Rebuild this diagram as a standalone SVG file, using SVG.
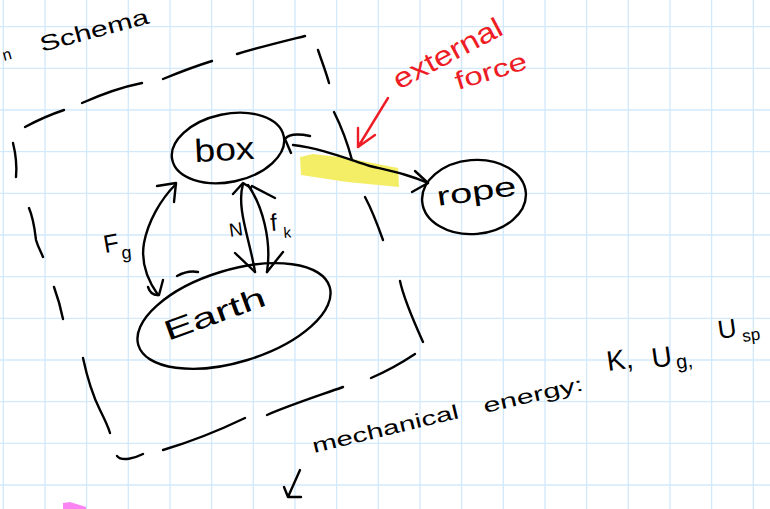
<svg xmlns="http://www.w3.org/2000/svg" width="770" height="509" viewBox="0 0 770 509">
  <style>
    .grid { stroke: #d2e9fb; stroke-width: 1.3; fill: none; }
    .ink { stroke: #000; stroke-width: 2.4; fill: none; stroke-linecap: round; stroke-linejoin: round; }
    .red { stroke: #ee1c25; stroke-width: 2.4; fill: none; stroke-linecap: round; stroke-linejoin: round; }
    .hand { font-family: "Liberation Sans", "DejaVu Sans", sans-serif; fill: #000; }
    .hand-red { font-family: "Liberation Sans", "DejaVu Sans", sans-serif; fill: #ee1c25; }
  </style>

  <!-- paper -->
  <rect width="770" height="509" fill="#ffffff"/>
  <path class="grid" d="M3.3,0V509 M45,0V509 M86.6,0V509 M128.3,0V509 M170,0V509 M211.6,0V509 M253.3,0V509 M295,0V509 M336.6,0V509 M378.3,0V509 M420,0V509 M461.6,0V509 M503.3,0V509 M545,0V509 M586.6,0V509 M628.3,0V509 M670,0V509 M711.6,0V509 M753.3,0V509
    M0,26.7H770 M0,68.3H770 M0,110H770 M0,151.7H770 M0,193.3H770 M0,235H770 M0,276.7H770 M0,318.3H770 M0,360H770 M0,401.7H770 M0,443.3H770 M0,485H770"/>

  <!-- highlighter mark under the external force -->
  <path d="M300,157 L313,154 L347,158 L398,168 L399,187 L347,182 L301,175 Z" fill="#f3ee66"/>
  <!-- pink mark at the page bottom -->
  <path d="M63,503 L70,502 L86,507 L86,509 L63,509 Z" fill="#fb84f3"/>

  <!-- title -->
  <text class="hand" font-size="16" transform="translate(4,61) rotate(-15)">n</text>
  <text class="hand" font-size="22" textLength="112" lengthAdjust="spacingAndGlyphs" transform="translate(42,52) rotate(-15)">Schema</text>

  <!-- system boundary (dashed, hand drawn) -->
  <g id="system-boundary" class="ink">
    <path d="M25,127 C38,120 52,114 64,110"/>
    <path d="M82,103 C100,95 122,87 142,83"/>
    <path d="M163,79 C180,72 196,66 212,61"/>
    <path d="M237,54 C260,47 285,41 305,36"/>
    <path d="M318,50 C322,62 326,72 329,83"/>
    <path d="M334,112 C342,128 348,145 352,160"/>
    <path d="M365,197 C372,210 378,226 383,240"/>
    <path d="M400,281 C404,300 414,322 423,342"/>
    <path d="M415,354 C400,364 385,372 371,378"/>
    <path d="M343,387 C318,396 290,405 267,415"/>
    <path d="M245,418 C220,430 190,442 163,450"/>
    <path d="M143,454 C135,458 122,462 117,456"/>
    <path d="M13,143 C16,155 17,166 16,177"/>
    <path d="M29,208 C34,220 35,232 36,240 C38,247 41,252 43,257"/>
    <path d="M54,287 C58,298 61,309 63,319"/>
    <path d="M83,358 C86,372 90,390 100,410 C104,418 108,426 110,433"/>
  </g>

  <!-- nodes -->
  <g id="box">
    <ellipse class="ink" cx="228" cy="148" rx="57" ry="34" transform="rotate(-12 228 148)"/>
    <text class="hand" font-size="32" textLength="60" lengthAdjust="spacingAndGlyphs" transform="translate(195,162) rotate(-3)">box</text>
  </g>

  <g id="earth">
    <ellipse class="ink" cx="234" cy="316" rx="100" ry="46" transform="rotate(-17 234 316)"/>
    <path class="ink" d="M177,276 Q188,270 198,272"/>
    <text class="hand" font-size="28" textLength="106" lengthAdjust="spacingAndGlyphs" transform="translate(168,341) rotate(-20)">Earth</text>
  </g>

  <g id="rope">
    <ellipse class="ink" cx="474" cy="197" rx="52" ry="37" transform="rotate(-5 474 197)"/>
    <text class="hand" font-size="27" textLength="80" lengthAdjust="spacingAndGlyphs" transform="translate(438,206) rotate(-8)">rope</text>
  </g>

  <!-- interactions -->
  <g id="connectors">
    <!-- gravitational: box <-> Earth -->
    <path class="ink" d="M176,184 C160,200 148,222 144,243 C141,260 146,278 158,295"/>
    <path class="ink" d="M157,186 L176,183 L174,202"/>
    <path class="ink" d="M148,287 Q151,296 159,295 M163,280 L159,295"/>
    <text class="hand" font-size="25" transform="translate(105,253) rotate(-10)">F</text>
    <text class="hand" font-size="18" transform="translate(122,259) rotate(-5)">g</text>

    <!-- normal and kinetic friction: box <-> Earth -->
    <path class="ink" d="M243,184 C236,208 250,240 255,272"/>
    <path class="ink" d="M248,185 C262,205 272,240 267,272"/>
    <path class="ink" d="M233,194 L243,183 L251,188 M252,186 L275,198"/>
    <path class="ink" d="M235,253 L255,272 M283,252 L267,272"/>
    <text class="hand" font-size="19" transform="translate(230,237) rotate(-8)">N</text>
    <text class="hand" font-size="24" transform="translate(271,231) rotate(-5)">f</text>
    <text class="hand" font-size="15" transform="translate(284,238) rotate(-5)">k</text>

    <!-- external force: box <-> rope -->
    <path class="ink" d="M293,145 C320,148 345,158 370,166 C395,172 410,175 428,183"/>
    <path class="ink" d="M415,171 L428,183 L412,192"/>
    <path class="ink" d="M310,136 Q290,132 285,139 L291,153"/>
  </g>

  <!-- annotation -->
  <g id="annotation">
    <path class="red" d="M388,98 L358,147 M358,128 L358,147 L375,135"/>
    <text class="hand-red" font-size="28" textLength="120" lengthAdjust="spacingAndGlyphs" transform="translate(399,90) rotate(-28)">external</text>
    <text class="hand-red" font-size="25" textLength="74" lengthAdjust="spacingAndGlyphs" transform="translate(458,90) rotate(-17)">force</text>
  </g>

  <!-- energy note -->
  <g id="energy-note">
    <text class="hand" font-size="20" textLength="150" lengthAdjust="spacingAndGlyphs" transform="translate(314,453) rotate(-13.5)">mechanical</text>
    <text class="hand" font-size="20" textLength="102" lengthAdjust="spacingAndGlyphs" transform="translate(485,413) rotate(-13)">energy:</text>
    <text class="hand" font-size="28" transform="translate(608,371) rotate(-8)">K,</text>
    <text class="hand" font-size="28" transform="translate(653,368) rotate(-8)">U</text>
    <text class="hand" font-size="20" transform="translate(677,369) rotate(-8)">g,</text>
    <text class="hand" font-size="26" transform="translate(719,339) rotate(-8)">U</text>
    <text class="hand" font-size="17" transform="translate(743,342) rotate(-8)">sp</text>
    <path class="ink" d="M300,470 L288,497 L301,497 M284,487 L288,497"/>
  </g>
</svg>
